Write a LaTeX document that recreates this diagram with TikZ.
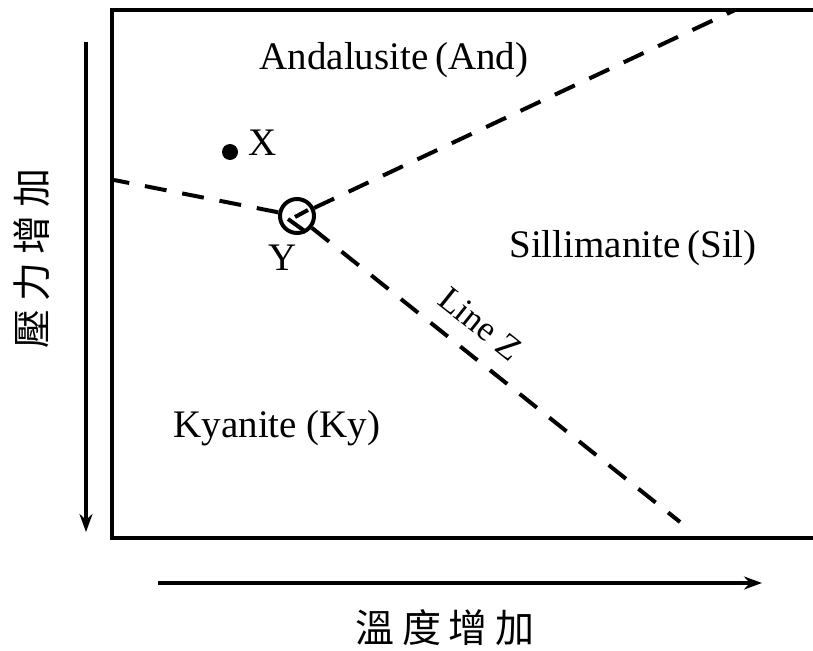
\documentclass[tikz,border=0pt]{standalone}
\usepackage{fontspec}
\setmainfont{Liberation Serif}
\newfontfamily\cjk{Noto Sans CJK TC}
\usetikzlibrary{arrows.meta}
\newcommand{\cjkgap}{\hspace{8pt}}
\begin{document}
\begin{tikzpicture}[x=1pt,y=-1pt,
  frame/.style={line width=4pt},
  phaseline/.style={line width=4pt,dash pattern=on 22pt off 16pt},
  axis/.style={line width=3.5pt,-{Stealth[length=18pt,width=13pt]}},
  lbl/.style={font=\fontsize{39}{42}\selectfont,inner sep=0pt},
  cjklbl/.style={font=\cjk\fontsize{39}{42}\selectfont,inner sep=0pt}]
\useasboundingbox (0,0) rectangle (813,650);
% frame
\draw[frame] (813,10) -- (112,10) -- (112,538) -- (813,538);
% axes
\coordinate (pa) at (86,42);
\coordinate (pb) at (86,532);
\draw[axis] (pa) -- (pb);
\coordinate (ta) at (158,583);
\coordinate (tb) at (762,583);
\draw[axis] (ta) -- (tb);
\node[cjklbl,rotate=90] (plabel) at (32,258) {壓\cjkgap 力\cjkgap 增\cjkgap 加};
\node[cjklbl] (tlabel) at (445,628) {溫\cjkgap 度\cjkgap 增\cjkgap 加};
% triple point
\node[circle,draw,line width=4pt,minimum size=34pt,inner sep=0pt] (Y) at (297,216) {};
\coordinate (L) at (114,180);
\coordinate (R) at (735,10);
\coordinate (Z) at (680,522);
\draw[phaseline] (Y) -- (L);
\draw[phaseline] (Y) -- (R);
\draw[phaseline] (Y) -- (Z);
\draw[line width=4pt] (295,217) -- (308,210);
\draw[line width=4pt] (288,219) -- (306,232);
% X point
\node[circle,fill,minimum size=16pt,inner sep=0pt] (Xdot) at (230,152) {};
\node[lbl] (Xlbl) at (263,143) {X};
\node[lbl] (Ylbl) at (283,258) {Y};
% labels
\node[lbl] (and) at (394,60) {Andalusite\hspace{-3pt} (And)};
\node[lbl] (sil) at (633,248) {Sillimanite\hspace{-3pt} (Sil)};
\node[lbl] (ky) at (277,428) {Kyanite (Ky)};
\node[lbl,font=\fontsize{35}{38}\selectfont,rotate=-38.6] (lz) at (480,324) {Line Z};
\end{tikzpicture}
\end{document}
